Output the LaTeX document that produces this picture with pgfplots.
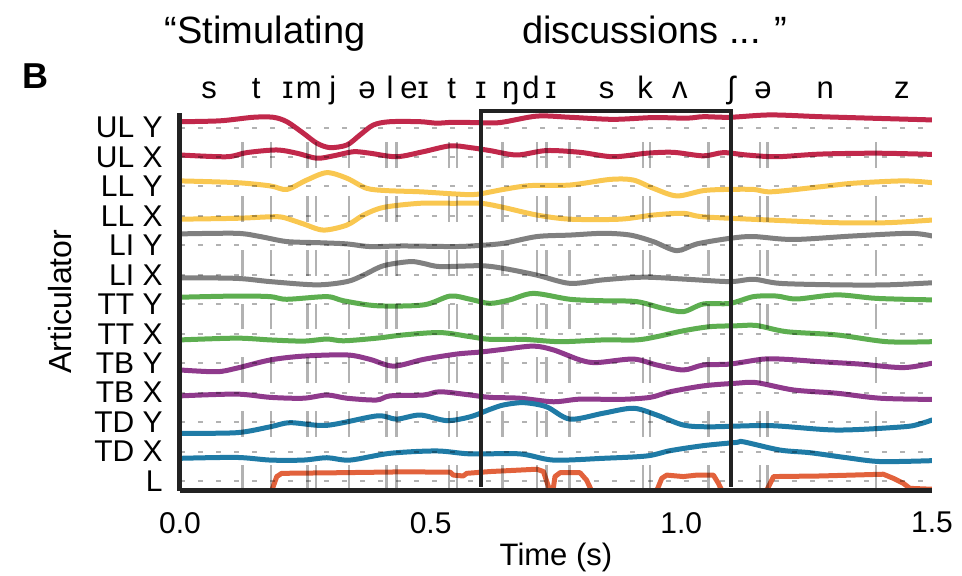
\documentclass[border=0pt]{standalone}
\usepackage{fontspec}
\setmainfont{Liberation Sans}
\usepackage{pgfplots}
\pgfplotsset{compat=1.18}
\definecolor{ulc}{HTML}{C1284B}
\definecolor{llc}{HTML}{F9C750}
\definecolor{lic}{HTML}{808080}
\definecolor{ttc}{HTML}{5DAE50}
\definecolor{tbc}{HTML}{8F3A8C}
\definecolor{tdc}{HTML}{1F7BA6}
\definecolor{lc}{HTML}{E2623C}
\definecolor{axisc}{HTML}{222222}

\begin{document}
\begin{tikzpicture}
\path[use as bounding box] (-90pt,-42.15pt) rectangle (391pt,245.35pt);
\begin{axis}[
  at={(0,0)}, anchor=south west,
  x=250.65pt, y=14.725pt,
  xmin=0, xmax=1.5, ymin=-0.33, ymax=12.5,
  axis x line*=bottom, axis y line*=left,
  axis line style={line width=2.5pt, color=axisc, -},
  axis on top,
  clip mode=individual,
  xtick={0,0.5,1,1.5}, xticklabels={0.0,0.5,1.0,1.5},
  ytick={0,1,2,3,4,5,6,7,8,9,10,11,12},
  yticklabels={L,TD X,TD Y,TB X,TB Y,TT X,TT Y,LI X,LI Y,LL X,LL Y,UL X,UL Y},
  major tick length=0pt,
  ymajorgrids,
  major grid style={black, opacity=0.3, line width=1pt, dash pattern=on 2.5pt off 6.5pt},
  tick label style={font=\fontsize{15}{18}\selectfont, inner sep=0pt},
  xticklabel style={anchor=north, yshift=-10.5pt},
  yticklabel style={anchor=east, xshift=-8.5pt},
  xlabel={Time (s)}, ylabel={Articulator},
  label style={font=\fontsize{15.5}{18}\selectfont, inner sep=0pt},
  xlabel style={at={(axis description cs:0.5,-0.1376)}, anchor=north},
  ylabel style={at={(axis description cs:-0.1596,0.5)}, anchor=center, font=\fontsize{16}{18}\selectfont},
  every axis plot/.append style={line width=2.5pt, line join=round, line cap=round},
]
% UL Y
\addplot[ulc, smooth] coordinates {(0,12.20)(0.080,12.23)(0.146,12.35)(0.186,12.35)(0.213,12.20)(0.246,11.81)(0.273,11.47)(0.299,11.32)(0.333,11.41)(0.359,11.75)(0.386,12.09)(0.419,12.20)(0.479,12.20)(0.512,12.15)(0.545,12.18)(0.590,12.17)(0.638,12.17)(0.712,12.39)(0.778,12.35)(0.864,12.28)(0.944,12.34)(1.011,12.32)(1.044,12.37)(1.097,12.35)(1.177,12.43)(1.277,12.37)(1.376,12.32)(1.5,12.26)};
% UL X
\addplot[ulc, smooth] coordinates {(0,11.07)(0.093,11.01)(0.133,11.15)(0.193,11.24)(0.233,11.13)(0.273,10.96)(0.306,11.04)(0.346,11.18)(0.379,11.13)(0.432,11.01)(0.485,11.18)(0.539,11.38)(0.579,11.32)(0.618,11.22)(0.672,11.07)(0.731,11.22)(0.798,11.16)(0.864,11.01)(0.931,11.13)(0.984,11.16)(1.044,11.04)(1.084,11.15)(1.130,11.07)(1.190,11.01)(1.277,11.10)(1.390,11.13)(1.5,11.09)};
% LL Y
\addplot[llc, smooth] coordinates {(0,10.19)(0.113,10.13)(0.180,10.02)(0.213,9.90)(0.253,10.22)(0.293,10.47)(0.333,10.28)(0.372,9.94)(0.412,9.86)(0.479,9.82)(0.545,9.75)(0.590,9.73)(0.645,9.90)(0.698,10.03)(0.778,10.05)(0.858,10.24)(0.904,10.22)(0.944,9.94)(0.991,9.68)(1.044,9.86)(1.091,9.90)(1.144,9.90)(1.180,9.82)(1.277,9.99)(1.343,10.11)(1.443,10.19)(1.5,10.13)};
% LL X
\addplot[llc, smooth] coordinates {(0,8.89)(0.113,8.92)(0.180,8.97)(0.206,8.95)(0.246,8.73)(0.286,8.52)(0.333,8.69)(0.366,9.03)(0.406,9.29)(0.479,9.43)(0.545,9.43)(0.600,9.43)(0.645,9.29)(0.712,9.03)(0.778,8.89)(0.878,8.89)(0.944,9.03)(1.004,9.09)(1.044,8.97)(1.177,8.86)(1.310,8.77)(1.410,8.77)(1.5,8.86)};
% LI Y
\addplot[lic, smooth] coordinates {(0,8.39)(0.113,8.41)(0.160,8.30)(0.213,8.13)(0.279,8.09)(0.333,8.05)(0.379,7.96)(0.445,7.98)(0.545,7.96)(0.590,7.99)(0.645,8.07)(0.712,8.30)(0.778,8.35)(0.844,8.41)(0.898,8.35)(0.944,8.13)(0.991,7.82)(1.031,8.05)(1.097,8.24)(1.144,8.30)(1.223,8.20)(1.343,8.32)(1.456,8.41)(1.5,8.32)};
% LI X
\addplot[lic, smooth] coordinates {(0,6.90)(0.113,6.88)(0.180,6.77)(0.273,6.66)(0.333,6.77)(0.366,6.99)(0.406,7.31)(0.459,7.45)(0.485,7.39)(0.519,7.28)(0.600,7.31)(0.645,7.22)(0.712,6.99)(0.778,6.71)(0.844,6.83)(0.924,6.92)(1.011,6.85)(1.097,6.77)(1.144,6.85)(1.197,6.71)(1.310,6.66)(1.410,6.66)(1.5,6.73)};
% TT Y
\addplot[ttc, smooth] coordinates {(0,6.24)(0.113,6.28)(0.180,6.26)(0.213,6.17)(0.293,6.26)(0.326,6.12)(0.393,5.95)(0.486,5.98)(0.539,6.28)(0.579,6.17)(0.618,6.03)(0.658,6.15)(0.705,6.37)(0.778,6.17)(0.844,6.12)(0.911,6.09)(0.964,5.86)(1.004,5.75)(1.044,6.01)(1.097,6.03)(1.144,6.26)(1.190,6.28)(1.230,6.18)(1.310,6.32)(1.390,6.20)(1.5,6.15)};
% TT X
\addplot[ttc, smooth] coordinates {(0,4.79)(0.113,4.85)(0.180,4.79)(0.246,4.75)(0.293,4.82)(0.326,4.76)(0.393,4.85)(0.446,4.96)(0.519,5.04)(0.579,4.90)(0.618,4.81)(0.685,4.81)(0.758,4.73)(0.844,4.79)(0.911,4.79)(0.951,4.90)(1.004,5.10)(1.057,5.24)(1.110,5.27)(1.150,5.28)(1.210,5.07)(1.310,4.96)(1.410,4.73)(1.5,4.73)};
% TB Y
\addplot[tbc, smooth] coordinates {(0,3.77)(0.073,3.71)(0.113,3.83)(0.180,4.11)(0.246,4.24)(0.333,4.28)(0.379,4.13)(0.426,3.90)(0.486,4.13)(0.552,4.31)(0.600,4.38)(0.645,4.47)(0.705,4.58)(0.745,4.45)(0.798,4.11)(0.831,4.02)(0.904,4.14)(0.951,3.94)(1.004,3.77)(1.044,3.94)(1.097,3.97)(1.164,4.14)(1.210,4.13)(1.277,4.05)(1.356,3.97)(1.443,3.85)(1.5,4.00)};
% TB X
\addplot[tbc, smooth] coordinates {(0,2.89)(0.113,2.95)(0.180,2.84)(0.246,2.81)(0.293,2.92)(0.333,2.81)(0.392,2.75)(0.419,2.89)(0.486,2.92)(0.519,3.03)(0.579,2.92)(0.618,2.84)(0.678,2.81)(0.745,2.69)(0.798,2.78)(0.878,2.77)(0.938,2.84)(0.978,3.03)(1.044,3.23)(1.110,3.32)(1.150,3.34)(1.224,3.09)(1.310,2.98)(1.397,2.81)(1.5,2.77)};
% TD Y
\addplot[tdc, smooth] coordinates {(0,1.62)(0.113,1.64)(0.180,1.84)(0.220,1.98)(0.293,1.89)(0.393,2.21)(0.432,2.10)(0.479,2.24)(0.532,2.05)(0.579,2.18)(0.618,2.43)(0.645,2.58)(0.685,2.66)(0.731,2.52)(0.778,2.10)(0.844,2.30)(0.904,2.47)(0.951,2.24)(1.004,1.90)(1.057,1.84)(1.177,1.88)(1.310,1.73)(1.443,1.84)(1.476,1.94)(1.5,2.07)};
% TD X
\addplot[tdc, smooth] coordinates {(0,0.77)(0.113,0.80)(0.180,0.71)(0.246,0.71)(0.293,0.79)(0.339,0.71)(0.419,0.94)(0.512,1.02)(0.579,0.92)(0.678,0.92)(0.745,0.71)(0.844,0.77)(0.931,0.85)(0.978,1.03)(1.044,1.20)(1.110,1.31)(1.124,1.33)(1.197,1.05)(1.257,0.96)(1.330,0.79)(1.397,0.66)(1.5,0.69)};
% L
\addplot[lc] coordinates {(0,-0.33)(0.183,-0.33)(0.193,0.15)(0.203,0.26)(0.313,0.28)(0.445,0.31)(0.539,0.30)(0.545,0.20)(0.565,0.17)(0.572,0.26)(0.618,0.32)(0.712,0.40)(0.725,0.32)(0.735,-0.19)(0.740,-0.33)(0.744,-0.33)(0.748,0.15)(0.758,0.28)(0.798,0.28)(0.811,0.03)(0.821,-0.33)(0.951,-0.33)(0.961,0.09)(0.971,0.20)(1.004,0.15)(1.031,0.20)(1.064,0.20)(1.074,-0.08)(1.081,-0.33)(1.170,-0.33)(1.184,0.15)(1.277,0.17)(1.403,0.23)(1.423,0.09)(1.443,-0.08)(1.456,-0.25)(1.5,-0.28)};

% phoneme boundaries
\pgfplotsforeachungrouped \xb in {0.125,0.181,0.254,0.271,0.337,0.412,0.432,0.537,0.552,0.643,0.712,0.731,0.777,0.923,0.938,1.054,1.157,1.172,1.388}{%
  \pgfplotsforeachungrouped \i in {0,1,2,3,4,5,6}{%
    \pgfmathsetmacro\lo{-0.33+1.825*\i}%
    \pgfmathsetmacro\hi{0.55+1.825*\i}%
    \edef\tmp{\noexpand\draw[black,opacity=0.3,line width=1.2pt] (axis cs:\xb,\lo) -- (axis cs:\xb,\hi);}%
    \tmp
  }%
}

% highlighted word
\draw[axisc, line width=2pt] (axis cs:0.6,-0.2) -- (axis cs:0.6,12.57) -- (axis cs:1.1,12.57) -- (axis cs:1.1,-0.2);

% phonemes
\begin{scope}[every node/.style={anchor=base, inner sep=0pt, font=\fontsize{15.5}{18}\selectfont}]
\node at (axis cs:0.058,13.0) {s};
\node at (axis cs:0.152,13.0) {t};
\node at (axis cs:0.215,13.0) {ɪ};
\node at (axis cs:0.257,13.0) {m};
\node at (axis cs:0.305,13.0) {j};
\node at (axis cs:0.373,13.0) {ə};
\node at (axis cs:0.419,13.0) {l};
\node at (axis cs:0.468,13.0) {eɪ};
\node at (axis cs:0.542,13.0) {t};
\node at (axis cs:0.600,13.0) {ɪ};
\node at (axis cs:0.660,13.0) {ŋ};
\node at (axis cs:0.700,13.0) {d};
\node at (axis cs:0.740,13.0) {ɪ};
\node at (axis cs:0.851,13.0) {s};
\node at (axis cs:0.928,13.0) {k};
\node at (axis cs:0.997,13.0) {ʌ};
\node at (axis cs:1.100,13.0) {ʃ};
\node at (axis cs:1.163,13.0) {ə};
\node at (axis cs:1.287,13.0) {n};
\node at (axis cs:1.440,13.0) {z};
\end{scope}

% sentence and panel letter
\node[anchor=base, inner sep=0pt, font=\fontsize{19}{22}\selectfont] at (axis cs:0.17,14.87) {“Stimulating};
\node[anchor=base, inner sep=0pt, font=\fontsize{19}{22}\selectfont] at (axis cs:0.9475,14.87) {discussions ... ”};
\node[anchor=base, inner sep=0pt, font=\fontsize{18}{22}\selectfont\bfseries] at (axis cs:-0.289,13.34) {B};
\end{axis}
\end{tikzpicture}
\end{document}
